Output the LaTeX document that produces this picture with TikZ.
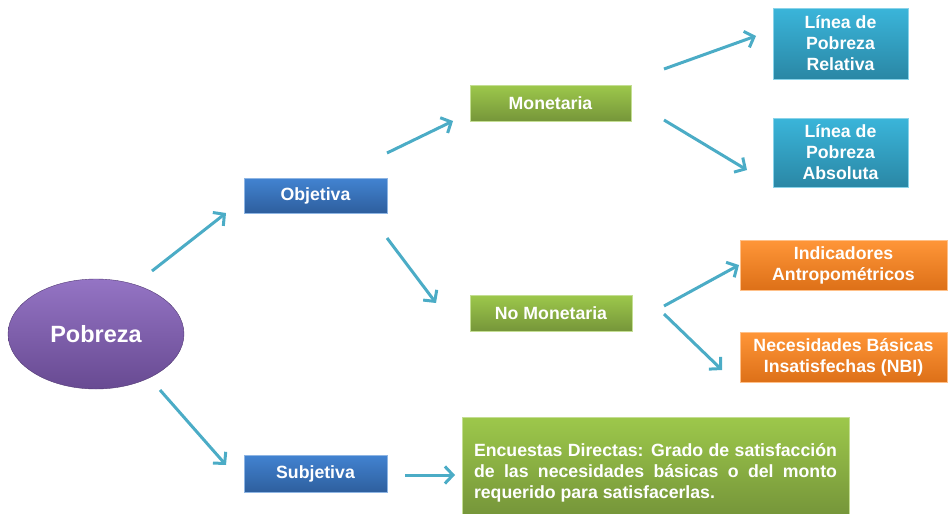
\documentclass[tikz,border=0pt]{standalone}
\usepackage{fontspec}
\setmainfont{Liberation Sans}
\usetikzlibrary{shapes.geometric,arrows.meta}
\definecolor{arr}{HTML}{4BACC6}
\definecolor{blueT}{HTML}{4283D1}
\definecolor{blueB}{HTML}{2E5F9E}
\definecolor{greenT}{HTML}{9DC84B}
\definecolor{greenB}{HTML}{76963A}
\definecolor{tealT}{HTML}{3AB5DA}
\definecolor{tealB}{HTML}{2A87A5}
\definecolor{orT}{HTML}{FF9638}
\definecolor{orB}{HTML}{DD7018}
\definecolor{puT}{HTML}{9474C4}
\definecolor{puB}{HTML}{684A92}
\tikzset{
  box/.style={rectangle, inner sep=0pt, align=center, text=white,
    font=\fontsize{17.7}{21}\selectfont\bfseries},
  bluebox/.style={box, top color=blueT, bottom color=blueB, draw=blueT!60!white, line width=0.6pt},
  greenbox/.style={box, top color=greenT, bottom color=greenB, draw=greenT!60!white, line width=0.6pt},
  tealbox/.style={box, top color=tealT, bottom color=tealB, draw=tealT!60!white, line width=0.6pt},
  orbox/.style={box, top color=orT, bottom color=orB, draw=orT!60!white, line width=0.6pt},
  conn/.style={draw=arr, line width=3pt, -{Straight Barb[length=8pt,width=17pt]}}
}
\begin{document}
\begin{tikzpicture}[x=1pt,y=-1pt]
\useasboundingbox (0,0) rectangle (948,514);
% root
\node[ellipse, minimum width=176pt, minimum height=110pt, inner sep=0pt,
  top color=puT, bottom color=puB, draw=puB!80!black, line width=0.4pt,
  text=white, font=\fontsize{23.5}{26}\selectfont\bfseries] (pob) at (96,334) {Pobreza};
% level 1
\node[bluebox, minimum width=143pt, minimum height=35pt] (obj) at (315.5,195.5) {Objetiva};
\node[bluebox, minimum width=143pt, minimum height=37pt] (sub) at (315.5,473.5) {Subjetiva};
% level 2
\node[greenbox, minimum width=161pt, minimum height=36pt] (mon) at (550.5,103) {Monetaria};
\node[greenbox, minimum width=162pt, minimum height=36pt] (nomon) at (551,313) {No Monetaria};
% level 3
\node[tealbox, minimum width=135pt, minimum height=71pt] (rel) at (840.5,43.5) {Línea de\\Pobreza\\Relativa};
\node[tealbox, minimum width=135pt, minimum height=69pt] (abs) at (840.5,152.5) {Línea de\\Pobreza\\Absoluta};
\node[orbox, minimum width=207pt, minimum height=50pt] (ind) at (843.5,265) {Indicadores\\Antropométricos};
\node[orbox, minimum width=207pt, minimum height=50pt] (nbi) at (843.5,357) {Necesidades Básicas\\Insatisfechas (NBI)};
\node[greenbox, minimum width=387pt, minimum height=97pt, text width=363pt, align=justify] (enc) at (655.5,465.5)
  {\rule{0pt}{27pt}Encuestas Directas: Grado de satisfacción\linebreak de las necesidades básicas o del monto\linebreak requerido para satisfacerlas.};
% connector end points
\coordinate (c1s) at (152,271); \coordinate (c1e) at (226,213);
\coordinate (c2s) at (160,390); \coordinate (c2e) at (226,465);
\coordinate (c3s) at (387,153); \coordinate (c3e) at (453,121);
\coordinate (c4s) at (387,238); \coordinate (c4e) at (436,303);
\coordinate (c5s) at (664,69);  \coordinate (c5e) at (756,36);
\coordinate (c6s) at (664,120); \coordinate (c6e) at (747,170);
\coordinate (c7s) at (664,306); \coordinate (c7e) at (739,265);
\coordinate (c8s) at (664,314); \coordinate (c8e) at (722,370);
\coordinate (c9s) at (405,475); \coordinate (c9e) at (455,475);
\draw[conn] (c1s) -- (c1e);
\draw[conn] (c2s) -- (c2e);
\draw[conn] (c3s) -- (c3e);
\draw[conn] (c4s) -- (c4e);
\draw[conn] (c5s) -- (c5e);
\draw[conn] (c6s) -- (c6e);
\draw[conn] (c7s) -- (c7e);
\draw[conn] (c8s) -- (c8e);
\draw[conn] (c9s) -- (c9e);
\end{tikzpicture}
\end{document}
